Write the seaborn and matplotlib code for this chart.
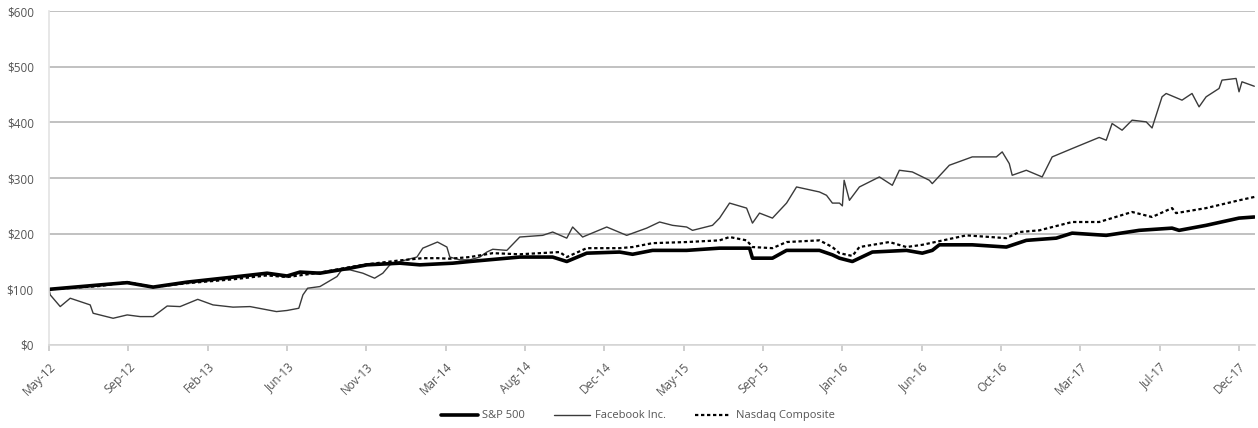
import matplotlib
matplotlib.use('Agg')
import matplotlib.pyplot as plt
import matplotlib.ticker as mticker
import pandas as pd
import seaborn as sns

# values of $100 invested on 2012-05-18
# x values are calendar days after the start date
start = pd.Timestamp('2012-05-18')

fb_days = [0, 2, 19, 36, 53, 70, 75, 109, 133, 155, 177, 201, 223, 253, 279, 313,
           342, 387, 405, 425, 432, 440, 461, 490, 498, 512, 534, 554, 568, 580,
           597, 626, 636, 661, 677, 682, 699, 716, 733, 745, 755, 779, 801, 840,
           857, 881, 891, 908, 949, 983, 1017, 1039, 1061, 1085, 1095, 1129, 1141,
           1158, 1187, 1197, 1209, 1231, 1255, 1272, 1311, 1323, 1333, 1345, 1350,
           1353, 1362, 1379, 1413, 1435, 1447, 1469, 1498, 1503, 1532, 1571, 1612,
           1622, 1634, 1639, 1663, 1690, 1707, 1741, 1787, 1799, 1809, 1826, 1843,
           1867, 1877, 1894, 1901, 1928, 1945, 1957, 1969, 1991, 1996, 2020, 2025,
           2030, 2051]
fb_vals = [100, 90, 69, 84, 78, 72, 57, 48, 54, 51, 51, 70, 69, 82, 72, 68,
           69, 60, 62, 66, 90, 102, 105, 123, 135, 135, 129, 120, 129, 144,
           150, 158, 174, 185, 176, 158, 153, 153, 158, 167, 172, 170, 194, 197,
           203, 192, 212, 194, 212, 197, 210, 221, 215, 212, 206, 215, 228,
           255, 246, 219, 237, 228, 255, 284, 275, 269, 255, 255, 250,
           296, 260, 284, 302, 287, 314, 311, 296, 290, 323, 338, 338,
           347, 326, 305, 314, 302, 338, 353, 373, 368, 398, 386, 404,
           401, 390, 446, 452, 440, 452, 428, 446, 461, 476, 479, 455,
           473, 465]

sp_days = [0, 87, 133, 177, 235, 313, 371, 405, 427, 461, 512, 541, 597, 631, 687,
           716, 801, 857, 881, 915, 971, 993, 1027, 1085, 1141, 1192, 1197, 1231,
           1255, 1311, 1333, 1345, 1367, 1401, 1459, 1486, 1503, 1515, 1571, 1629,
           1663, 1714, 1741, 1799, 1855, 1911, 1923, 1969, 2025, 2051]
sp_vals = [100, 108, 112, 104, 113, 122, 129, 124, 131, 129, 138, 144, 147, 144, 147,
           150, 158, 158, 150, 165, 167, 163, 170, 170, 174, 174, 156, 156,
           170, 170, 162, 156, 150, 167, 170, 165, 170, 180, 180, 176,
           188, 192, 201, 197, 206, 210, 206, 215, 228, 230]

nq_days = [0, 87, 133, 177, 235, 313, 371, 405, 461, 512, 541, 597, 636, 661, 682,
           716, 755, 801, 869, 881, 915, 971, 993, 1027, 1085, 1141, 1158, 1187,
           1197, 1231, 1255, 1311, 1333, 1345, 1367, 1379, 1430, 1459, 1486, 1561,
           1629, 1651, 1685, 1741, 1787, 1843, 1877, 1911, 1918, 1969, 2025, 2051]
nq_vals = [100, 106, 113, 104, 111, 118, 125, 122, 130, 140, 145, 152, 156, 156, 155,
           158, 165, 163, 167, 158, 174, 174, 176, 183, 185, 188, 194, 188,
           176, 174, 185, 188, 176, 165, 160, 176, 185, 176, 180, 197,
           192, 203, 206, 221, 221, 239, 230, 246, 237, 246, 260, 266]

series_names = ['S&P 500', 'Facebook Inc.', 'Nasdaq Composite']
tick_labels = ['May-12', 'Sep-12', 'Feb-13', 'Jun-13', 'Nov-13', 'Mar-14', 'Aug-14',
               'Dec-14', 'May-15', 'Sep-15', 'Jan-16', 'Jun-16', 'Oct-16', 'Mar-17',
               'Jul-17', 'Dec-17']
y_ticks = [0, 100, 200, 300, 400, 500, 600]


def to_frame(days, vals, name):
    return pd.DataFrame({
        'date': start + pd.to_timedelta(days, unit='D'),
        'value': vals,
        'series': name,
    })


df = pd.concat([
    to_frame(sp_days, sp_vals, series_names[0]),
    to_frame(fb_days, fb_vals, series_names[1]),
    to_frame(nq_days, nq_vals, series_names[2]),
], ignore_index=True)

sns.set_theme(style='white')
plt.rcParams['font.family'] = ['Open Sans', 'DejaVu Sans']

fig = plt.figure(figsize=(12.58, 4.28), dpi=100)
ax = fig.add_axes([0.039, 0.194, 0.959, 0.78])

styles = {
    'S&P 500': dict(color='black', linewidth=2.6, linestyle='-'),
    'Facebook Inc.': dict(color='#3a3a3a', linewidth=1.0, linestyle='-'),
    'Nasdaq Composite': dict(color='black', linewidth=1.6, linestyle=(0, (1.5, 1.2))),
}
# draw Facebook first so the two index lines sit on top
for name in ['Facebook Inc.', 'Nasdaq Composite', 'S&P 500']:
    sub = df[df['series'] == name]
    sns.lineplot(data=sub, x='date', y='value', ax=ax, label=name, **styles[name])

ax.set_ylim(0, 600)
ax.set_yticks(y_ticks)
ax.yaxis.set_major_formatter(mticker.FuncFormatter(lambda v, p: f'${int(v)}'))
ax.set_xlim(start, start + pd.Timedelta(days=2053))
tick_dates = pd.date_range(start, periods=len(tick_labels), freq='135D')
ax.set_xticks(tick_dates)
ax.set_xticklabels(tick_labels, rotation=45, ha='right', rotation_mode='anchor')

ax.grid(axis='y', color='#b0b0b0', linewidth=1.1)
ax.set_axisbelow(True)
for side in ['top', 'right']:
    ax.spines[side].set_visible(False)
ax.spines['left'].set_color('#e4e4e4')
ax.spines['bottom'].set_color('#d8d8d8')
ax.tick_params(axis='x', which='major', length=4, color='#c8c8c8', labelsize=8.5,
               labelcolor='#555555', pad=7, bottom=True)
ax.tick_params(axis='y', length=0, labelsize=8.5, labelcolor='#555555', pad=11)
ax.set_xlabel('')
ax.set_ylabel('')

handles, labels = ax.get_legend_handles_labels()
order = [labels.index(n) for n in series_names]
ax.legend([handles[i] for i in order], [labels[i] for i in order],
          loc='lower center', bbox_to_anchor=(0.507, -0.008), bbox_transform=fig.transFigure,
          ncol=3, frameon=False, fontsize=8, labelcolor='#555555',
          handlelength=3.3, columnspacing=2.6, handletextpad=0.4)

fig.savefig('out.png', dpi=100)
